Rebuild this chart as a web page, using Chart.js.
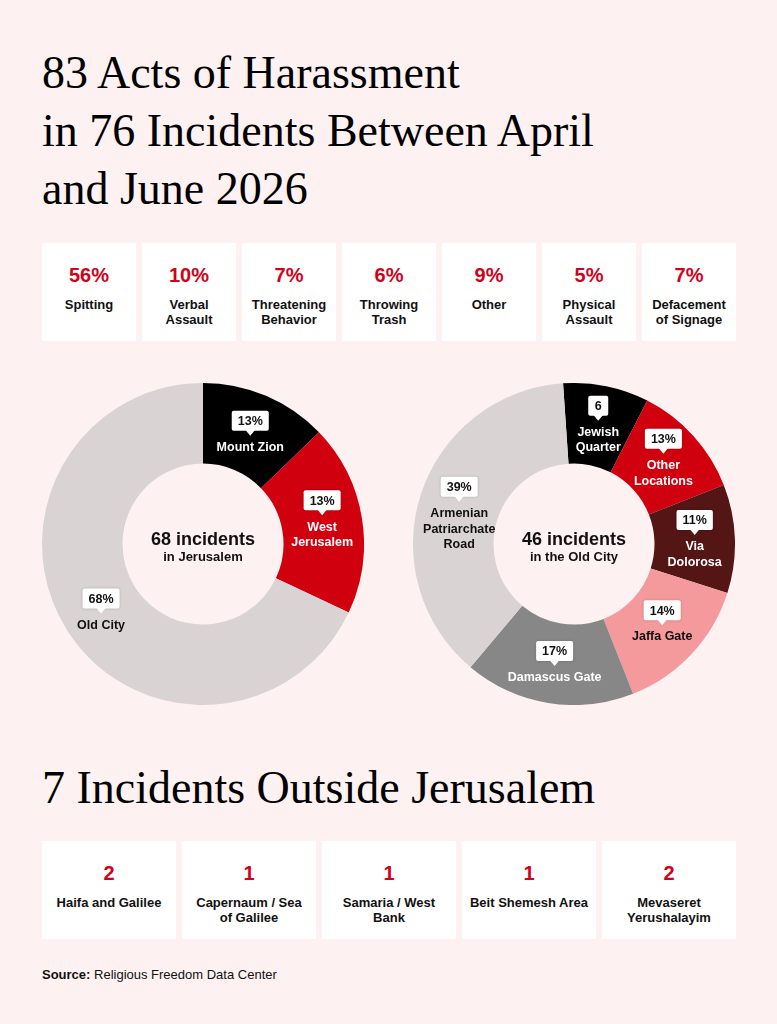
<!DOCTYPE html>
<html>
<head>
<meta charset="utf-8">
<script src="https://cdn.jsdelivr.net/npm/chart.js@4"></script>
<style>
  html, body { margin: 0; padding: 0; }
  body {
    width: 777px; height: 1024px; position: relative; overflow: hidden;
    background: #fef1f1; font-family: "Liberation Sans", Arial, sans-serif; color: #111;
  }
  .title {
    position: absolute; left: 42px; top: 44px; margin: 0;
    font-family: "Liberation Serif", "Times New Roman", serif; font-weight: normal;
    font-size: 46px; line-height: 58px; color: #000; white-space: nowrap;
  }
  .subtitle { top: 759px; }
  .cards { position: absolute; left: 42px; display: flex; gap: 6px; }
  .cards.top { top: 243px; }
  .cards.bottom { top: 841px; }
  .card {
    background: #fff; height: 98px; text-align: center; box-sizing: border-box; padding-top: 21px;
  }
  .cards.top .card { width: 94px; }
  .cards.bottom .card { width: 134px; }
  .card .num { color: #d0021b; font-weight: bold; font-size: 20px; line-height: 23px; }
  .card .lbl { font-weight: bold; font-size: 13px; line-height: 15px; margin-top: 10px; }
  .donut { position: absolute; top: 383px; width: 322px; height: 322px; }
  .center { position: absolute; text-align: center; font-weight: bold; width: 170px; }
  .center .big { font-size: 18px; line-height: 20px; }
  .center .small { font-size: 13px; line-height: 15px; }
  .source { position: absolute; left: 42px; top: 967px; font-size: 13px; line-height: 16px; }
</style>
</head>
<body>
<h1 class="title">83 Acts of Harassment<br>in 76 Incidents Between April<br>and June 2026</h1>

<div class="cards top" id="topCards"></div>

<div class="donut" style="left:42px"><canvas id="cityChart" width="322" height="322"></canvas></div>
<div class="donut" style="left:413px"><canvas id="oldCityChart" width="322" height="322"></canvas></div>
<div class="center" style="left:118px; top:529px"><div class="big">68 incidents</div><div class="small">in Jerusalem</div></div>
<div class="center" style="left:489px; top:529px"><div class="big">46 incidents</div><div class="small">in the Old City</div></div>

<h1 class="title subtitle">7 Incidents Outside Jerusalem</h1>
<div class="cards bottom" id="bottomCards"></div>

<div class="source"><b>Source:</b> Religious Freedom Data Center</div>

<script>
// harassment types (top cards)
const typeShares = ["56%", "10%", "7%", "6%", "9%", "5%", "7%"];
const typeNames = ["Spitting", "Verbal<br>Assault", "Threatening<br>Behavior", "Throwing<br>Trash", "Other", "Physical<br>Assault", "Defacement<br>of Signage"];

// outside Jerusalem (bottom cards)
const outsideCounts = ["2", "1", "1", "1", "2"];
const outsideNames = ["Haifa and Galilee", "Capernaum / Sea<br>of Galilee", "Samaria / West<br>Bank", "Beit Shemesh Area", "Mevaseret<br>Yerushalayim"];

// Jerusalem donut
const cityNames = [["Mount Zion"], ["West", "Jerusalem"], ["Old City"]];
const cityValues = [12.8, 19.2, 68];
const cityTags = ["13%", "13%", "68%"];
const cityColors = ["#000000", "#d0000f", "#d9d4d3"];
const cityText = ["#fff", "#fff", "#111"];

// Old City donut
const oldNames = [["Jewish", "Quarter"], ["Other", "Locations"], ["Via", "Dolorosa"], ["Jaffa Gate"], ["Damascus Gate"], ["Armenian", "Patriarchate", "Road"]];
const oldValues = [8.6, 11.5, 10.9, 14.1, 17.1, 37.8];
const oldTags = ["6", "13%", "11%", "14%", "17%", "39%"];
const oldColors = ["#000000", "#d0000f", "#541515", "#f4999c", "#878787", "#d9d4d3"];
const oldText = ["#fff", "#fff", "#fff", "#111", "#fff", "#111"];

function fillCards(id, nums, names) {
    const box = document.getElementById(id);
    nums.forEach((n, i) => {
        const c = document.createElement("div");
        c.className = "card";
        c.innerHTML = `<div class="num">${n}</div><div class="lbl">${names[i]}</div>`;
        box.appendChild(c);
    });
}
fillCards("topCards", typeShares, typeNames);
fillCards("bottomCards", outsideCounts, outsideNames);

// callout boxes + segment names, placed on each arc's centroid
const calloutPlugin = {
    id: "callouts",
    afterDatasetsDraw(chart) {
        const ctx = chart.ctx;
        const ds = chart.data.datasets[0];
        const meta = chart.getDatasetMeta(0);
        meta.data.forEach((arc, i) => {
            const p = arc.tooltipPosition();
            const lines = ds.names[i];
            const lineH = 15.5;
            const boxH = 20, tail = 5, gap = 4;
            const total = boxH + tail + gap + lines.length * lineH;
            let y = p.y - total / 2 + (ds.shift ? ds.shift[i] : 0);

            ctx.save();
            ctx.font = "bold 12.5px 'Liberation Sans', Arial, sans-serif";
            const tw = ctx.measureText(ds.tags[i]).width;
            const bw = Math.max(tw + 12, 20);
            ctx.shadowColor = "rgba(0,0,0,0.18)";
            ctx.shadowBlur = 3;
            ctx.fillStyle = "#fff";
            ctx.beginPath();
            ctx.roundRect(p.x - bw / 2, y, bw, boxH, 2);
            ctx.fill();
            ctx.shadowColor = "transparent";
            ctx.beginPath();
            ctx.moveTo(p.x - 5, y + boxH - 1);
            ctx.lineTo(p.x + 5, y + boxH - 1);
            ctx.lineTo(p.x, y + boxH + tail);
            ctx.closePath();
            ctx.fill();
            ctx.fillStyle = "#111";
            ctx.textAlign = "center";
            ctx.textBaseline = "middle";
            ctx.fillText(ds.tags[i], p.x, y + boxH / 2 + 1);

            y += boxH + tail + gap;
            ctx.fillStyle = ds.textColors[i];
            lines.forEach((ln, k) => {
                ctx.fillText(ln, p.x, y + lineH * k + lineH / 2);
            });
            ctx.restore();
        });
    }
};

function makeDonut(id, values, colors, tags, names, textColors, rotation, shift) {
    return new Chart(document.getElementById(id), {
        type: "doughnut",
        data: {
            labels: names.map(n => n.join(" ")),
            datasets: [{
                data: values,
                backgroundColor: colors,
                borderWidth: 0,
                tags: tags,
                names: names,
                textColors: textColors,
                shift: shift
            }]
        },
        options: {
            responsive: false,
            animation: false,
            cutout: "50%",
            rotation: rotation,
            layout: { padding: 0 },
            plugins: { legend: { display: false }, tooltip: { enabled: false } }
        },
        plugins: [calloutPlugin]
    });
}

makeDonut("cityChart", cityValues, cityColors, cityTags, cityNames, cityText, 0, [0, -4, 2]);
makeDonut("oldCityChart", oldValues, oldColors, oldTags, oldNames, oldText, -3.9, [0, -4, 0, -4, 0, 8]);
</script>
</body>
</html>
